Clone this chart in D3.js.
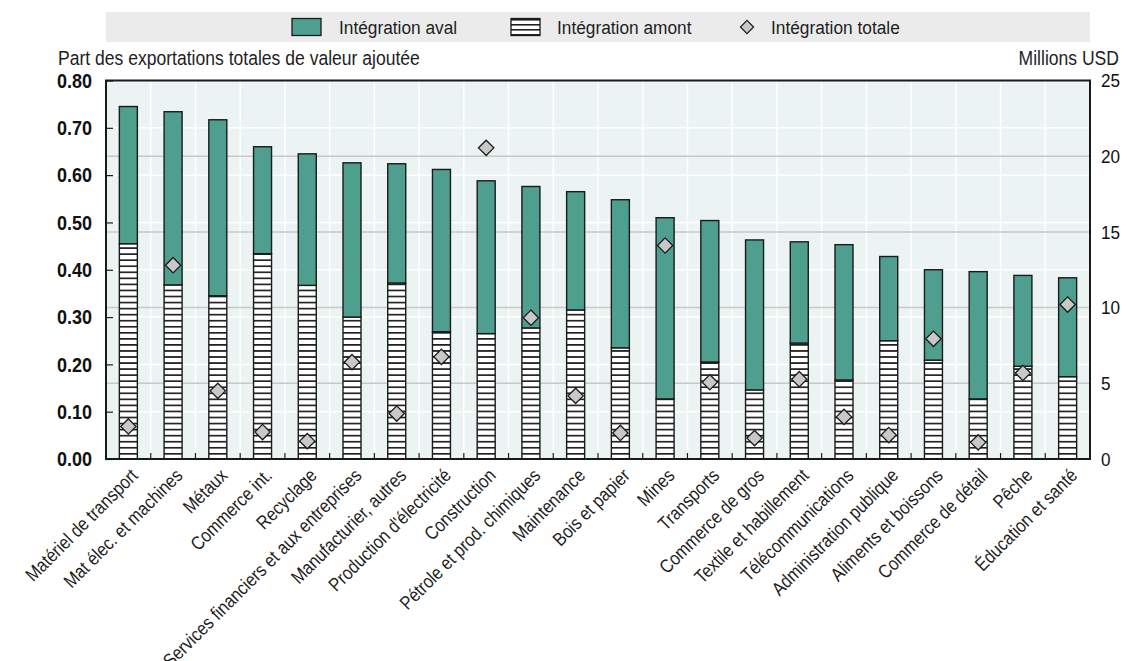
<!DOCTYPE html>
<html><head><meta charset="utf-8">
<script src="https://cdn.jsdelivr.net/npm/d3@7"></script>
<style>
body{margin:0;background:#fff;}
svg{display:block;font-family:"Liberation Sans",Arial,sans-serif;}
</style></head><body>
<svg id="c" width="1127" height="661"></svg>
<script>
const categories = ["Matériel de transport","Mat élec. et machines","Métaux","Commerce int.","Recyclage","Services financiers et aux entreprises","Manufacturier, autres","Production d'électricité","Construction","Pétrole et prod. chimiques","Maintenance","Bois et papier","Mines","Transports","Commerce de gros","Textile et habillement","Télécommunications","Administration publique","Aliments et boissons","Commerce de détail","Pêche","Éducation et santé"];
const totalShare = [0.745,0.734,0.717,0.660,0.645,0.626,0.624,0.612,0.588,0.576,0.565,0.548,0.510,0.504,0.463,0.459,0.453,0.428,0.400,0.396,0.388,0.383];
const amont = [0.455,0.368,0.345,0.434,0.367,0.300,0.372,0.269,0.265,0.277,0.315,0.235,0.127,0.205,0.146,0.245,0.167,0.250,0.209,0.127,0.196,0.174];
const totale = [2.15,12.8,4.5,1.78,1.18,6.4,3.0,6.75,20.55,9.33,4.17,1.72,14.1,5.07,1.38,5.27,2.78,1.58,7.94,1.1,5.68,10.2];
const leftTicks = [0,0.1,0.2,0.3,0.4,0.5,0.6,0.7,0.8];
const rightTicks = [0,5,10,15,20,25];
const legendLabels = ["Intégration aval","Intégration amont","Intégration totale"];
const leftTitle = "Part des exportations totales de valeur ajoutée";
const rightTitle = "Millions USD";

const svg = d3.select("#c");
const m = {l:106, r:1090, t:80.5, b:459};
const x = d3.scaleBand().domain(categories).range([m.l,m.r]);
const y = d3.scaleLinear().domain([0,0.8]).range([m.b,m.t]);
const y2 = d3.scaleLinear().domain([0,25]).range([m.b,m.t]);
const teal = "#4e9f8f", dark = "#1a1a1a", txt = "#1e1e1e";

function ctext(g, px, py, str, o) {
  o = o || {};
  const t = g.append("text")
    .attr("transform", `translate(${px},${py})` + (o.rot ? ` rotate(${o.rot})` : "") + ` scale(${o.k||0.9},1)`)
    .attr("font-size", o.size||20).attr("fill", o.fill||txt)
    .attr("text-anchor", o.anchor||"start").text(str);
  if (o.weight) t.attr("font-weight", o.weight);
  if (o.dy) t.attr("dy", o.dy);
  return t;
}

const defs = svg.append("defs");
const pat = defs.append("pattern").attr("id","hatch").attr("patternUnits","userSpaceOnUse")
  .attr("width",6).attr("height",6.05).attr("y",m.b);
pat.append("rect").attr("width",6).attr("height",6.05).attr("fill","#fff");
pat.append("rect").attr("y",0).attr("width",6).attr("height",1.7).attr("fill","#222");
const pat2 = defs.append("pattern").attr("id","hatch2").attr("patternUnits","userSpaceOnUse")
  .attr("width",6).attr("height",5).attr("y",19);
pat2.append("rect").attr("width",6).attr("height",5).attr("fill","#fff");
pat2.append("rect").attr("y",0).attr("width",6).attr("height",1.6).attr("fill","#222");

// legend
svg.append("rect").attr("x",106).attr("y",12).attr("width",984).attr("height",30).attr("fill","#ebebeb");
const lg = svg.append("g");
lg.append("rect").attr("x",292).attr("y",18.5).attr("width",29).attr("height",17).attr("fill",teal).attr("stroke",dark).attr("stroke-width",1.3);
ctext(lg,339,34,legendLabels[0],{size:19,k:0.91});
lg.append("rect").attr("x",511).attr("y",18.5).attr("width",29).attr("height",17).attr("fill","url(#hatch2)").attr("stroke",dark).attr("stroke-width",1.3);
ctext(lg,557,34,legendLabels[1],{size:19,k:0.91});
lg.append("path").attr("d",d3.symbol().type(d3.symbolDiamond2).size(110)()).attr("transform","translate(747,27)")
  .attr("fill","#c8c8c8").attr("stroke",dark).attr("stroke-width",1.2);
ctext(lg,771,34,legendLabels[2],{size:19,k:0.91});

// axis titles
ctext(svg,58,65,leftTitle,{size:19.5,k:0.9});
ctext(svg,1119,65,rightTitle,{size:19.5,k:0.9,anchor:"end"});

// plot background + grids
svg.append("rect").attr("x",m.l).attr("y",m.t).attr("width",m.r-m.l).attr("height",m.b-m.t).attr("fill","#ebf4f3");
svg.append("g").selectAll("line").data(leftTicks.slice(1,-1)).join("line")
  .attr("x1",m.l).attr("x2",m.r).attr("y1",d=>y(d)).attr("y2",d=>y(d)).attr("stroke","#fff").attr("stroke-width",1.5);
svg.append("g").selectAll("line").data(categories.slice(1)).join("line")
  .attr("x1",d=>x(d)).attr("x2",d=>x(d)).attr("y1",m.t).attr("y2",m.b).attr("stroke","#fff").attr("stroke-width",1.5);
svg.append("g").selectAll("line").data(rightTicks.slice(1,-1)).join("line")
  .attr("x1",m.l).attr("x2",m.r).attr("y1",d=>y2(d)).attr("y2",d=>y2(d)).attr("stroke","#c8c8c8").attr("stroke-width",1.5);

// bars
const bw = 18;
const bx = d=>x(d)+x.bandwidth()/2-bw/2;
const gb = svg.append("g");
gb.selectAll("rect.am").data(categories).join("rect").attr("class","am")
  .attr("x",bx).attr("width",bw).attr("y",(d,i)=>y(amont[i])).attr("height",(d,i)=>y(0)-y(amont[i]))
  .attr("fill","url(#hatch)").attr("stroke",dark).attr("stroke-width",1.4);
gb.selectAll("rect.av").data(categories).join("rect").attr("class","av")
  .attr("x",bx).attr("width",bw).attr("y",(d,i)=>y(totalShare[i])).attr("height",(d,i)=>y(amont[i])-y(totalShare[i]))
  .attr("fill",teal).attr("stroke",dark).attr("stroke-width",1.4);

// diamonds
svg.append("g").selectAll("path").data(categories).join("path")
  .attr("d",d3.symbol().type(d3.symbolDiamond2).size(150)())
  .attr("transform",(d,i)=>`translate(${x(d)+x.bandwidth()/2},${y2(totale[i])})`)
  .attr("fill","#c8c8c8").attr("stroke",dark).attr("stroke-width",1.3);

// frame
svg.append("rect").attr("x",m.l).attr("y",m.t).attr("width",m.r-m.l).attr("height",m.b-m.t)
  .attr("fill","none").attr("stroke",dark).attr("stroke-width",2);

// left axis ticks
const la = svg.append("g").attr("transform",`translate(${m.l},0)`)
  .call(d3.axisLeft(y).tickValues(leftTicks).tickFormat("").tickSize(-7));
la.select(".domain").remove();
la.selectAll(".tick line").attr("stroke",dark).attr("stroke-width",1.2);
const fmt = d3.format(".2f");
leftTicks.forEach(v => ctext(svg, 92, y(v), fmt(v), {size:20, k:0.9, weight:"bold", anchor:"end", dy:"0.36em", fill:"#111"}));
rightTicks.forEach(v => ctext(svg, 1101, y2(v), String(v), {size:19, k:0.9, dy:"0.36em", fill:"#111"}));
// bottom ticks
svg.append("g").selectAll("line").data(categories.slice(1)).join("line")
  .attr("x1",d=>x(d)).attr("x2",d=>x(d)).attr("y1",m.b).attr("y2",m.b-6).attr("stroke",dark).attr("stroke-width",1.2);
// x labels
const gx = svg.append("g");
categories.forEach(c => ctext(gx, x(c)+x.bandwidth()/2+1, m.b+8, c, {size:19, k:0.86, rot:-45, anchor:"end", dy:"0.72em"}));
</script></body></html>
